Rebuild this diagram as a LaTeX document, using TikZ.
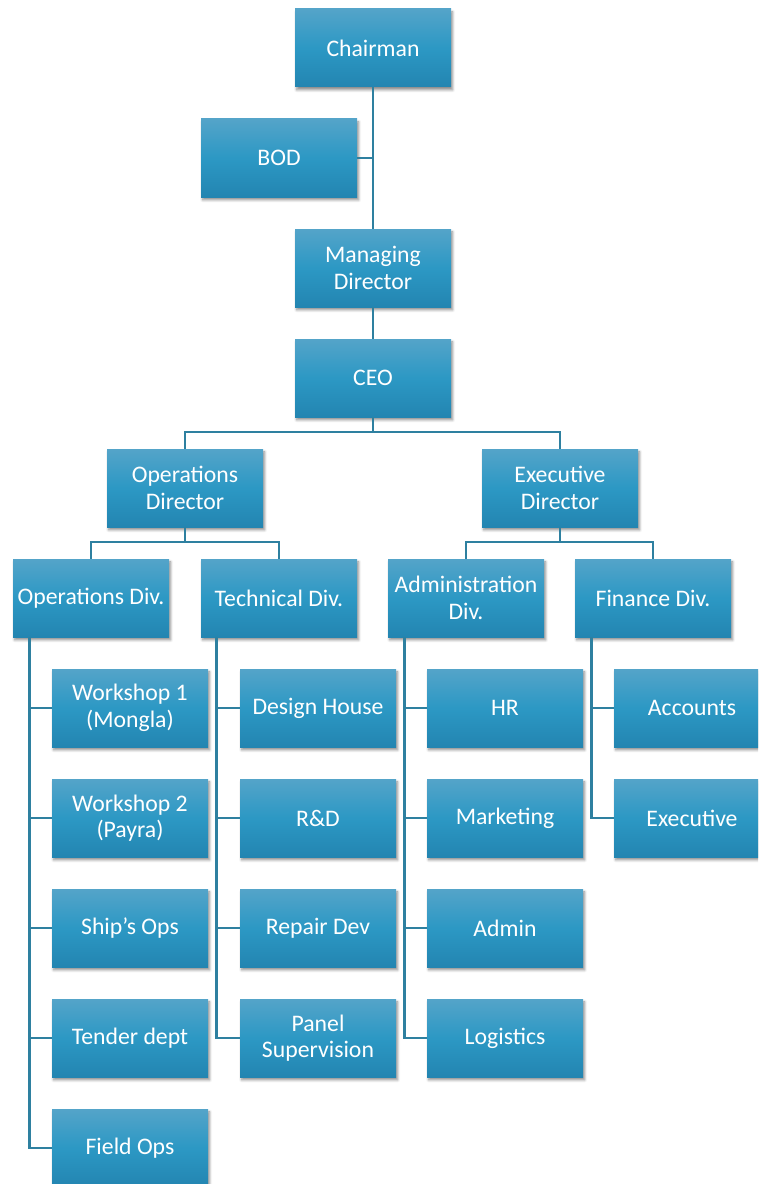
\documentclass[tikz,border=0pt]{standalone}
\usepackage{fontspec}
\setmainfont{Carlito}
\usetikzlibrary{shadows.blur,calc}
\definecolor{boxtop}{RGB}{84,164,201}
\definecolor{boxmid}{RGB}{44,152,196}
\definecolor{boxbot}{RGB}{35,133,177}
\definecolor{linkcol}{RGB}{46,128,160}
\tikzset{
 unit/.style={rectangle, minimum width=117pt, minimum height=58.5pt, inner sep=0pt,
   top color=boxtop, bottom color=boxbot, middle color=boxmid, text=white, align=center,
   font=\fontsize{17.8}{20}\selectfont,
   blur shadow={shadow xshift=1.2pt, shadow yshift=-2.2pt, shadow blur steps=6, shadow opacity=45}},
 wire/.style={draw=linkcol, line width=2pt}
}
\begin{document}
\begin{tikzpicture}[x=0.75pt,y=-0.75pt]
\useasboundingbox (0,0) rectangle (758,1184);
\clip (0,0) rectangle (758,1184);
% top chain
\node[unit] (chair) at (373,48) {Chairman};
\node[unit] (bod) at (279,158) {BOD};
\node[unit] (md) at (373,268) {Managing\\Director};
\node[unit] (ceo) at (373,378) {CEO};
\node[unit] (opsdir) at (185,488) {Operations\\Director};
\node[unit] (exdir) at (560,488) {Executive\\Director};
\node[unit] (opsdiv) at (91,598) {Operations Div.};
\node[unit] (techdiv) at (279,598) {Technical Div.};
\node[unit] (admdiv) at (466,598) {Administration\\Div.};
\node[unit] (findiv) at (653,598) {Finance Div.};
% operations children
\node[unit] (w1) at (130,708) {Workshop 1\\(Mongla)};
\node[unit] (w2) at (130,818) {Workshop 2\\(Payra)};
\node[unit] (ships) at (130,928) {Ship’s Ops};
\node[unit] (tender) at (130,1038) {Tender dept};
\node[unit] (field) at (130,1148) {Field Ops};
% technical children
\node[unit] (design) at (318,708) {Design House};
\node[unit] (rnd) at (318,818) {R\&D};
\node[unit] (repair) at (318,928) {Repair Dev};
\node[unit] (panel) at (318,1038) {Panel\\Supervision};
% admin children
\node[unit] (hr) at (505,708) {HR};
\node[unit] (mkt) at (505,818) {Marketing};
\node[unit] (adm) at (505,928) {Admin};
\node[unit] (logi) at (505,1038) {Logistics};
% finance children
\node[unit] (acc) at (692,708) {Accounts};
\node[unit] (exe) at (692,818) {Executive};
% connectors
\draw[wire] (chair.south) -- (md.north);
\draw[wire] (bod.east) -- (bod.east -| chair.south);
\draw[wire] (md.south) -- (ceo.north);
\coordinate (cbus) at (373,432);
\draw[wire] (ceo.south) -- (cbus);
\draw[wire] (opsdir.north) |- (cbus);
\draw[wire] (exdir.north) |- (cbus);
\coordinate (obus) at (185,542);
\draw[wire] (opsdir.south) -- (obus);
\draw[wire] (opsdiv.north) |- (obus);
\draw[wire] (techdiv.north) |- (obus);
\coordinate (ebus) at (560,542);
\draw[wire] (exdir.south) -- (ebus);
\draw[wire] (admdiv.north) |- (ebus);
\draw[wire] (findiv.north) |- (ebus);
% ops stem
\coordinate (ostem) at ($(opsdiv.south west)+(17,0)$);
\draw[wire] (ostem) |- (field.west);
\foreach \c in {w1,w2,ships,tender} \draw[wire] (\c.west) -- (\c.west -| ostem);
% tech stem
\coordinate (tstem) at ($(techdiv.south west)+(16,0)$);
\draw[wire] (tstem) |- (panel.west);
\foreach \c in {design,rnd,repair} \draw[wire] (\c.west) -- (\c.west -| tstem);
% admin stem
\coordinate (astem) at ($(admdiv.south west)+(17,0)$);
\draw[wire] (astem) |- (logi.west);
\foreach \c in {hr,mkt,adm} \draw[wire] (\c.west) -- (\c.west -| astem);
% finance stem
\coordinate (fstem) at ($(findiv.south west)+(17,0)$);
\draw[wire] (fstem) |- (exe.west);
\draw[wire] (acc.west) -- (acc.west -| fstem);
\end{tikzpicture}
\end{document}
